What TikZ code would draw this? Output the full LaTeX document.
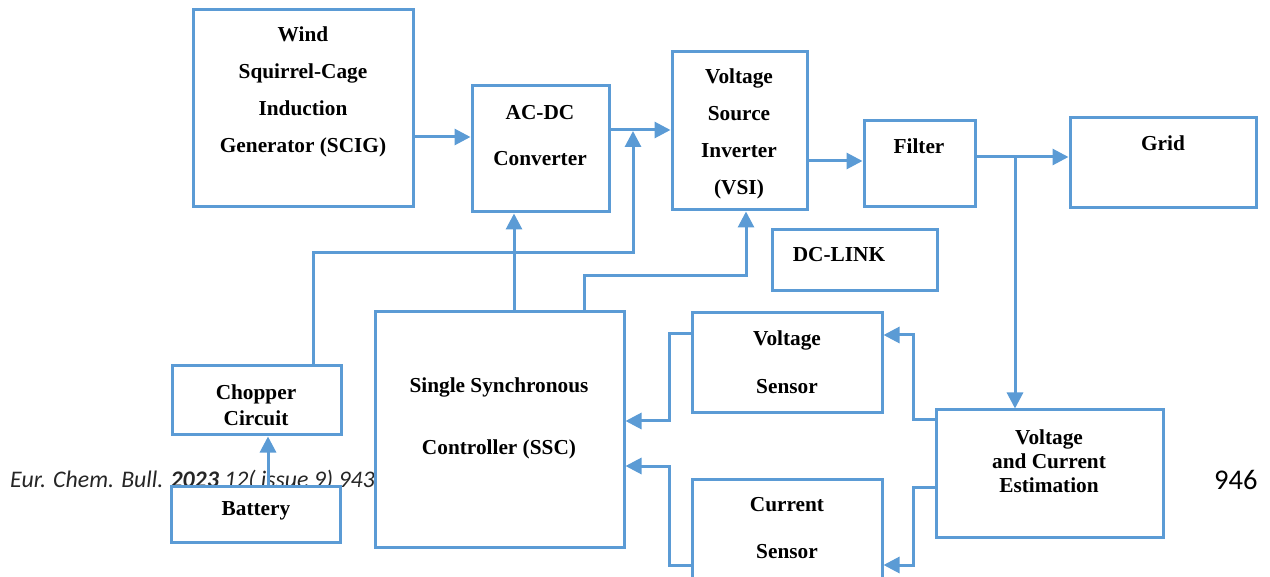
\documentclass[tikz,border=0pt]{standalone}
\usepackage{fontspec}
\setmainfont{Liberation Serif}
\newfontfamily\calibri{Carlito}
\usetikzlibrary{arrows.meta}
\definecolor{boxblue}{HTML}{5B9BD5}
\definecolor{footgray}{HTML}{262626}

\begin{document}
\begin{tikzpicture}[x=1pt,y=-1pt,
    blk/.style={draw=boxblue,line width=3pt,fill=white,inner sep=0pt},
    lbl/.style={align=center,inner sep=0pt,font=\bfseries\fontsize{21.3}{#1}\selectfont},
    lbl/.default=37,
    conn/.style={draw=boxblue,line width=3pt,-{Triangle[length=16pt,width=16pt]}},
    wire/.style={draw=boxblue,line width=3pt}]
  \useasboundingbox (0,0) rectangle (1270,577);

  % page footer (lies under the battery box)
  \node[anchor=west,inner sep=0pt,text=footgray,font=\calibri\itshape\fontsize{23.8}{28}\selectfont]
    (foot) at (10,480) {Eur. Chem. Bull. \textbf{2023} 12( issue 9) 943};
  \node[anchor=west,inner sep=0pt,text=black,font=\calibri\fontsize{28.5}{32}\selectfont]
    (page) at (1214,480) {946};

  % blocks
  \node[blk,minimum width=220pt,minimum height=197pt] (scig) at (303,108.5) {};
  \node[blk,minimum width=137pt,minimum height=126pt] (acdc) at (540.5,149) {};
  \node[blk,minimum width=135pt,minimum height=158pt] (vsi) at (739.5,131) {};
  \node[blk,minimum width=111pt,minimum height=86pt] (filter) at (919.5,164) {};
  \node[blk,minimum width=186pt,minimum height=90pt] (grid) at (1163,163) {};
  \node[blk,minimum width=165pt,minimum height=61pt] (dclink) at (854.5,260.5) {};
  \node[blk,minimum width=249pt,minimum height=235pt] (ssc) at (499.5,429.5) {};
  \node[blk,minimum width=190pt,minimum height=100pt] (vsen) at (787,363) {};
  \node[blk,minimum width=190pt,minimum height=112pt] (csen) at (787,535) {};
  \node[blk,minimum width=227pt,minimum height=127pt] (est) at (1049.5,473.5) {};
  \node[blk,minimum width=169pt,minimum height=69pt] (chop) at (256.5,400.5) {};
  \node[blk,minimum width=169pt,minimum height=56pt] (batt) at (255.5,514) {};

  % block texts
  \node[lbl] at (303,92) {Wind\\Squirrel-Cage\\Induction\\Generator (SCIG)};
  \node[lbl=46] at (540,136) {AC-DC\\Converter};
  \node[lbl] at (739,134) {Voltage\\Source\\Inverter\\(VSI)};
  \node[lbl] at (919,146) {Filter};
  \node[lbl] at (1163,143) {Grid};
  \node[lbl] at (839,255) {DC-LINK};
  \node[lbl=62] at (499,418) {Single Synchronous\\Controller (SSC)};
  \node[lbl=48] at (787,362) {Voltage\\Sensor};
  \node[lbl=47] at (787,528.5) {Current\\Sensor};
  \node[lbl=24] at (1049,461) {Voltage\\and Current\\Estimation};
  \node[lbl=26] at (256,405) {Chopper\\Circuit};
  \node[lbl] at (256,511) {Battery};

  % junctions
  \coordinate (jdc) at (633,131);
  \coordinate (jgrid) at (1015,157);

  % power path
  \draw[conn] (scig.east |- 0,137) -- (acdc.west |- 0,137);
  \draw[conn] (acdc.east |- 0,130) -- (vsi.west |- 0,130);
  \draw[conn] (vsi.east |- 0,161) -- (filter.west |- 0,161);
  \draw[conn] (filter.east |- 0,157) -- (grid.west |- 0,157);
  \draw[conn] (jgrid) -- (est.north -| jgrid);

  % storage branch
  \draw[conn] (batt.north -| 268,0) -- (chop.south -| 268,0);
  \draw[conn] (chop.north -| 313,0) |- (jdc |- 0,253) -- (jdc);

  % control signals
  \draw[conn] (ssc.north -| 514,0) -- (acdc.south -| 514,0);
  \draw[conn] (ssc.north -| 584,0) |- (746,276) -- (vsi.south -| 746,0);
  \draw[conn] (est.west |- 0,420) -| (913,335) -- (vsen.east |- 0,335);
  \draw[conn] (est.west |- 0,487) -| (913,565) -- (csen.east |- 0,565);
  \draw[conn] (vsen.west |- 0,334) -| (669,421) -- (ssc.east |- 0,421);
  \draw[conn] (csen.west |- 0,565) -| (669,466) -- (ssc.east |- 0,466);
\end{tikzpicture}
\end{document}
